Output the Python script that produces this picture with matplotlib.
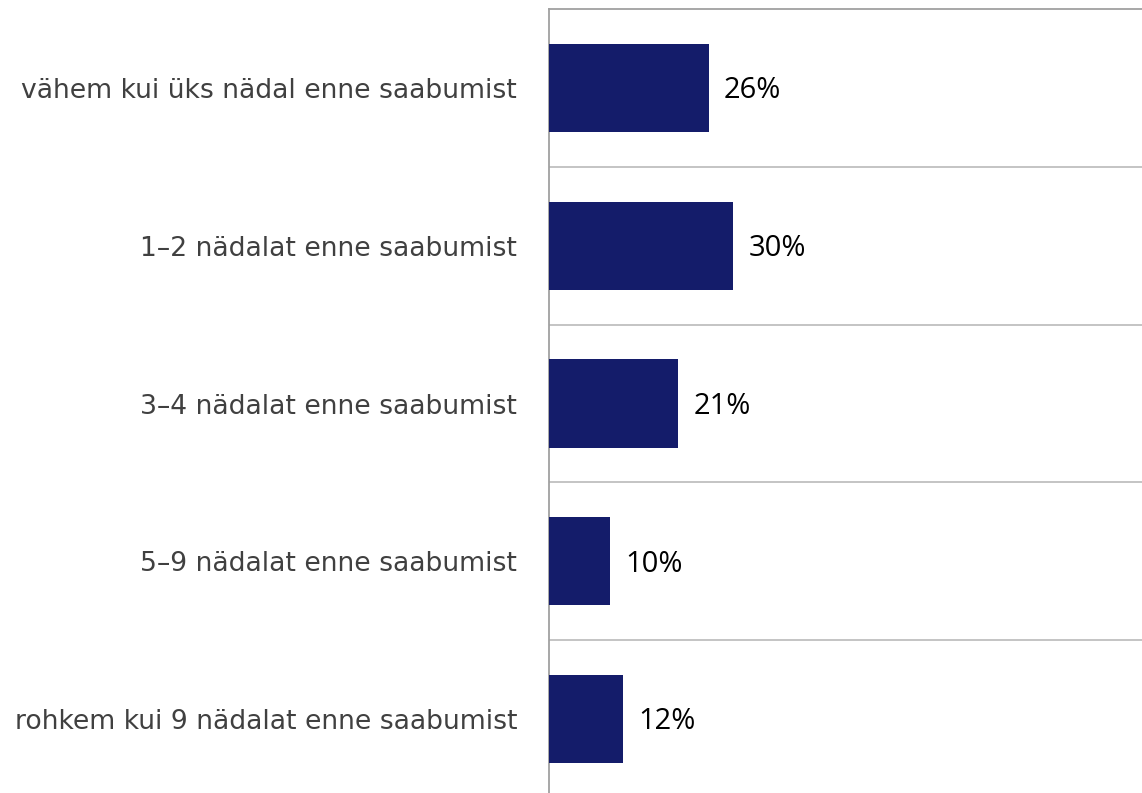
import numpy as np
import matplotlib.pyplot as plt

# categories top to bottom and their shares
categories = [
    "vähem kui üks nädal enne saabumist",
    "1\u20132 nädalat enne saabumist",
    "3\u20134 nädalat enne saabumist",
    "5\u20139 nädalat enne saabumist",
    "rohkem kui 9 nädalat enne saabumist",
]
shares = [26, 30, 21, 10, 12]
share_labels = ["26%", "30%", "21%", "10%", "12%"]

bar_color = "#141c6a"

fig = plt.figure(figsize=(11.42, 7.93), dpi=100)
# axes runs a few pixels past the bottom edge, like the original crop
ax = fig.add_axes([549 / 1142, -5 / 793, 593 / 1142, 789 / 793])

y = np.arange(len(categories))
ax.barh(y, shares, height=0.56, color=bar_color, zorder=3)

ax.set_ylim(len(categories) - 0.5, -0.5)
ax.set_xlim(0, 96.6)

# separators between rows
for b in np.arange(0.5, len(categories) - 0.5, 1):
    ax.axhline(b, color="#bfbfbf", lw=1.3, zorder=1)

for yi, v, lab in zip(y, shares, share_labels):
    ax.annotate(lab, (v, yi), xytext=(11, -2), textcoords="offset points",
                va="center", ha="left", fontsize=21, family=["Open Sans", "DejaVu Sans"],
                color="#000000")

ax.set_yticks(y)
ax.set_yticklabels(categories, fontsize=19.2, color="#404040")
ax.tick_params(axis="y", length=0, pad=23)
ax.set_xticks([])

for s in ["right", "bottom"]:
    ax.spines[s].set_visible(False)
ax.spines["left"].set_color("#a0a0a0")
ax.spines["left"].set_linewidth(1.3)
ax.spines["top"].set_color("#a0a0a0")
ax.spines["top"].set_linewidth(1.3)

fig.savefig("out.png", dpi=100)
